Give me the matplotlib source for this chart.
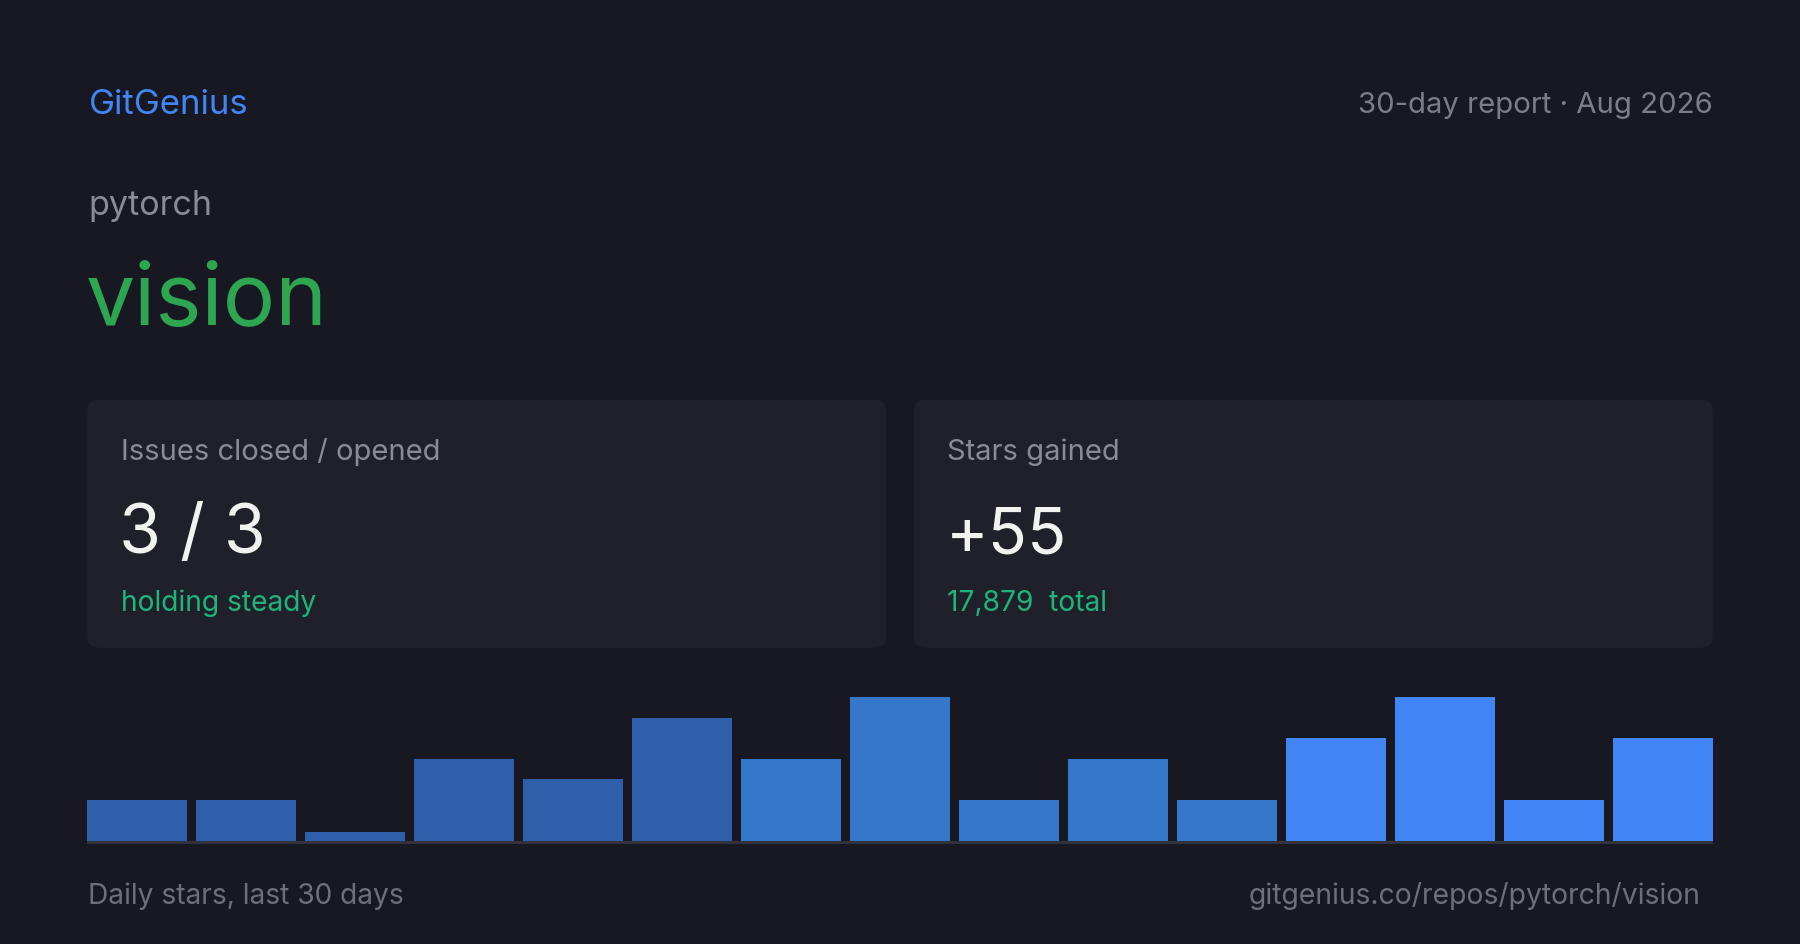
import matplotlib
matplotlib.use('Agg')
from matplotlib import pyplot as plt
from matplotlib.patches import FancyBboxPatch

'''
DATA
'''
brand = 'GitGenius'
report_label = '30-day report · Aug 2026'
owner = 'pytorch'
repo = 'vision'

issues_label = 'Issues closed / opened'
issues_closed = 3
issues_opened = 3
issues_note = 'holding steady'

stars_label = 'Stars gained'
stars_gained = 55
stars_total = 17879

# daily stars, one bar per bucket (sum = 55)
daily_stars = [2, 2, 0, 4, 3, 6, 4, 7, 2, 4, 2, 5, 7, 2, 5]
bar_colors = ['#2f5faa'] * 6 + ['#3577c9'] * 5 + ['#4285f4'] * 4

footer_left = 'Daily stars, last 30 days'
footer_right = 'gitgenius.co/repos/pytorch/vision'

'''
STYLE
'''
BG = '#171821'
CARD = '#1f2029'
GRAY = '#8b8b95'
FOOT = '#6e6f79'
W, H = 1568, 823  # layout units (scaled to 1800x945 on save)

plt.rcParams['font.family'] = ['Inter', 'DejaVu Sans']

fig = plt.figure(figsize=(18, 9.45), dpi=100)
fig.patch.set_facecolor(BG)

bg = fig.add_axes([0, 0, 1, 1])
bg.set_xlim(0, W)
bg.set_ylim(H, 0)
bg.axis('off')
bg.set_facecolor(BG)

# header
bg.text(77, 99, brand, color='#4285f4', fontsize=25, va='baseline')
bg.text(1492, 98, report_label, color='#7d7d88', fontsize=21.1, va='baseline', ha='right')
bg.text(77, 187, owner, color=GRAY, fontsize=24.5, va='baseline')
bg.text(75, 283, repo, color='#2ea551', fontsize=63, va='baseline')

# cards
for x0 in (76, 796):
    card = FancyBboxPatch((x0 + 10, 349 + 10), 696 - 20, 216 - 20,
                          boxstyle='round,pad=10', fc=CARD, ec='none')
    bg.add_patch(card)

def card_text(x0, label, value, note, value_size):
    bg.text(x0 + 29, 401, label, color=GRAY, fontsize=21, va='baseline')
    bg.text(x0 + 28, 482, value, color='#f2f2f0', fontsize=value_size, va='baseline')
    bg.text(x0 + 29, 532, note, color='#1fb47b', fontsize=20.3, va='baseline')

card_text(76, issues_label, f'{issues_closed} / {issues_opened}', issues_note, 49)
card_text(796, stars_label, f'+{stars_gained}', f'{stars_total:,}  total', 46.5)

# footer
bg.text(77, 787, footer_left, color=FOOT, fontsize=20.3, va='baseline')
bg.text(1481, 787, footer_right, color=FOOT, fontsize=20.4, va='baseline', ha='right')

'''
BARS
'''
base, top = 733, 608
line_h = 2.5
ax = fig.add_axes([76 / W, 1 - (base + line_h) / H, 1416 / W, (base + line_h - top) / H])
ax.set_facecolor('none')
ax.axis('off')
unit = max(daily_stars) / (base - top)
heights = [max(v, 0.4) for v in daily_stars]  # zero days still get a sliver
xs = list(range(len(daily_stars)))
ax.bar(xs, heights, width=0.92, color=bar_colors, align='center')
ax.axhspan(-line_h * unit, 0, color='#31323d', lw=0)
ax.set_xlim(-0.46, len(daily_stars) - 1 + 0.46)
ax.set_ylim(-line_h * unit, max(daily_stars))

fig.savefig('out.png', dpi=100, facecolor=BG)
